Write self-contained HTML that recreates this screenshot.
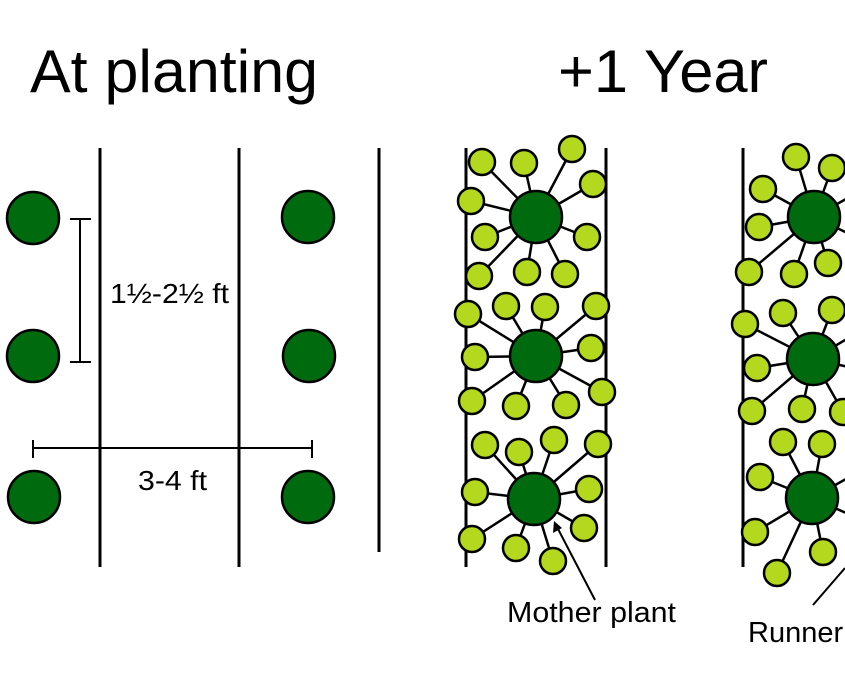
<!DOCTYPE html>
<html><head><meta charset="utf-8"><style>html,body{margin:0;padding:0;background:#fff}svg{display:block}</style></head>
<body>
<svg width="845" height="684" viewBox="0 0 845 684" xmlns="http://www.w3.org/2000/svg" font-family="Liberation Sans, sans-serif">
<text x="30" y="92" font-size="60" textLength="288" lengthAdjust="spacingAndGlyphs">At planting</text>
<text x="558" y="92" font-size="60" textLength="210" lengthAdjust="spacingAndGlyphs">+1 Year</text>
<g stroke="#000" stroke-width="3">
<line x1="100" y1="148" x2="100" y2="567"/>
<line x1="239" y1="148" x2="239" y2="567"/>
<line x1="379" y1="148" x2="379" y2="552"/>
<line x1="466" y1="148" x2="466" y2="567"/>
<line x1="606" y1="148" x2="606" y2="567"/>
<line x1="743" y1="148" x2="743" y2="567"/>
</g>
<g stroke="#000" stroke-width="2">
<line x1="80" y1="219" x2="80" y2="362"/><line x1="70" y1="219" x2="91" y2="219"/><line x1="70" y1="362" x2="91" y2="362"/>
<line x1="33" y1="448" x2="312" y2="448"/><line x1="33" y1="440" x2="33" y2="458"/><line x1="312" y1="440" x2="312" y2="458"/>
</g>
<text x="110" y="303" font-size="28" textLength="119" lengthAdjust="spacingAndGlyphs">1½-2½ ft</text>
<text x="138" y="490" font-size="28" textLength="69" lengthAdjust="spacingAndGlyphs">3-4 ft</text>
<g fill="#006a0e" stroke="#000" stroke-width="2.5">
<circle cx="33" cy="218" r="26"/><circle cx="33" cy="356" r="26"/><circle cx="34" cy="497" r="26"/>
<circle cx="308" cy="217" r="26"/><circle cx="309" cy="356" r="26"/><circle cx="308" cy="497" r="26"/>
</g>
<g stroke="#000" stroke-width="2.5">
<line x1="536" y1="217" x2="482" y2="162"/><line x1="536" y1="217" x2="524" y2="163"/><line x1="536" y1="217" x2="572" y2="149"/><line x1="536" y1="217" x2="593" y2="184"/><line x1="536" y1="217" x2="471" y2="201"/><line x1="536" y1="217" x2="485" y2="237"/><line x1="536" y1="217" x2="587" y2="237"/><line x1="536" y1="217" x2="479" y2="276"/><line x1="536" y1="217" x2="527" y2="272"/><line x1="536" y1="217" x2="565" y2="274"/>
<line x1="536" y1="356" x2="468" y2="314"/><line x1="536" y1="356" x2="506" y2="306"/><line x1="536" y1="356" x2="545" y2="307"/><line x1="536" y1="356" x2="596" y2="306"/><line x1="536" y1="356" x2="475" y2="357"/><line x1="536" y1="356" x2="591" y2="348"/><line x1="536" y1="356" x2="472" y2="401"/><line x1="536" y1="356" x2="516" y2="406"/><line x1="536" y1="356" x2="566" y2="405"/><line x1="536" y1="356" x2="602" y2="392"/>
<line x1="534" y1="499" x2="485" y2="445"/><line x1="534" y1="499" x2="519" y2="452"/><line x1="534" y1="499" x2="554" y2="440"/><line x1="534" y1="499" x2="598" y2="444"/><line x1="534" y1="499" x2="475" y2="492"/><line x1="534" y1="499" x2="589" y2="489"/><line x1="534" y1="499" x2="584" y2="528"/><line x1="534" y1="499" x2="472" y2="539"/><line x1="534" y1="499" x2="516" y2="548"/><line x1="534" y1="499" x2="553" y2="561"/>
<line x1="814" y1="217" x2="796" y2="157"/><line x1="814" y1="217" x2="832" y2="168"/><line x1="814" y1="217" x2="763" y2="189"/><line x1="814" y1="217" x2="759" y2="227"/><line x1="814" y1="217" x2="749" y2="272"/><line x1="814" y1="217" x2="794" y2="274"/><line x1="814" y1="217" x2="828" y2="263"/><line x1="814" y1="217" x2="862" y2="190"/><line x1="814" y1="217" x2="862" y2="240"/>
<line x1="813" y1="359" x2="745" y2="324"/><line x1="813" y1="359" x2="783" y2="313"/><line x1="813" y1="359" x2="832" y2="310"/><line x1="813" y1="359" x2="757" y2="368"/><line x1="813" y1="359" x2="752" y2="411"/><line x1="813" y1="359" x2="802" y2="409"/><line x1="813" y1="359" x2="843" y2="412"/><line x1="813" y1="359" x2="862" y2="330"/><line x1="813" y1="359" x2="862" y2="370"/>
<line x1="812" y1="498" x2="783" y2="442"/><line x1="812" y1="498" x2="822" y2="444"/><line x1="812" y1="498" x2="760" y2="477"/><line x1="812" y1="498" x2="755" y2="532"/><line x1="812" y1="498" x2="777" y2="573"/><line x1="812" y1="498" x2="823" y2="552"/><line x1="812" y1="498" x2="862" y2="470"/><line x1="812" y1="498" x2="862" y2="520"/>
</g>
<g fill="#b3d81e" stroke="#000" stroke-width="2.5">
<circle cx="482" cy="162" r="13"/><circle cx="524" cy="163" r="13"/><circle cx="572" cy="149" r="13"/><circle cx="593" cy="184" r="13"/><circle cx="471" cy="201" r="13"/><circle cx="485" cy="237" r="13"/><circle cx="587" cy="237" r="13"/><circle cx="479" cy="276" r="13"/><circle cx="527" cy="272" r="13"/><circle cx="565" cy="274" r="13"/>
<circle cx="468" cy="314" r="13"/><circle cx="506" cy="306" r="13"/><circle cx="545" cy="307" r="13"/><circle cx="596" cy="306" r="13"/><circle cx="475" cy="357" r="13"/><circle cx="591" cy="348" r="13"/><circle cx="472" cy="401" r="13"/><circle cx="516" cy="406" r="13"/><circle cx="566" cy="405" r="13"/><circle cx="602" cy="392" r="13"/>
<circle cx="485" cy="445" r="13"/><circle cx="519" cy="452" r="13"/><circle cx="554" cy="440" r="13"/><circle cx="598" cy="444" r="13"/><circle cx="475" cy="492" r="13"/><circle cx="589" cy="489" r="13"/><circle cx="584" cy="528" r="13"/><circle cx="472" cy="539" r="13"/><circle cx="516" cy="548" r="13"/><circle cx="553" cy="561" r="13"/>
<circle cx="796" cy="157" r="13"/><circle cx="832" cy="168" r="13"/><circle cx="763" cy="189" r="13"/><circle cx="759" cy="227" r="13"/><circle cx="749" cy="272" r="13"/><circle cx="794" cy="274" r="13"/><circle cx="828" cy="263" r="13"/><circle cx="862" cy="190" r="13"/><circle cx="862" cy="240" r="13"/>
<circle cx="745" cy="324" r="13"/><circle cx="783" cy="313" r="13"/><circle cx="832" cy="310" r="13"/><circle cx="757" cy="368" r="13"/><circle cx="752" cy="411" r="13"/><circle cx="802" cy="409" r="13"/><circle cx="843" cy="412" r="13"/><circle cx="862" cy="330" r="13"/><circle cx="862" cy="370" r="13"/>
<circle cx="783" cy="442" r="13"/><circle cx="822" cy="444" r="13"/><circle cx="760" cy="477" r="13"/><circle cx="755" cy="532" r="13"/><circle cx="777" cy="573" r="13"/><circle cx="823" cy="552" r="13"/><circle cx="862" cy="470" r="13"/><circle cx="862" cy="520" r="13"/>
</g>
<g fill="#006a0e" stroke="#000" stroke-width="2.5">
<circle cx="536" cy="217" r="26"/><circle cx="536" cy="356" r="26"/><circle cx="534" cy="499" r="26"/>
<circle cx="814" cy="217" r="26"/><circle cx="813" cy="359" r="26"/><circle cx="812" cy="498" r="26"/>
</g>
<text x="507" y="622" font-size="29" textLength="169" lengthAdjust="spacingAndGlyphs">Mother plant</text>
<text x="748" y="642" font-size="29">Runner</text>
<g stroke="#000" stroke-width="2"><line x1="595" y1="600" x2="557" y2="527"/><line x1="813" y1="605" x2="845" y2="568"/></g>
<polygon points="554,521 553,533 562,528" fill="#000"/>
</svg>
</body></html>
